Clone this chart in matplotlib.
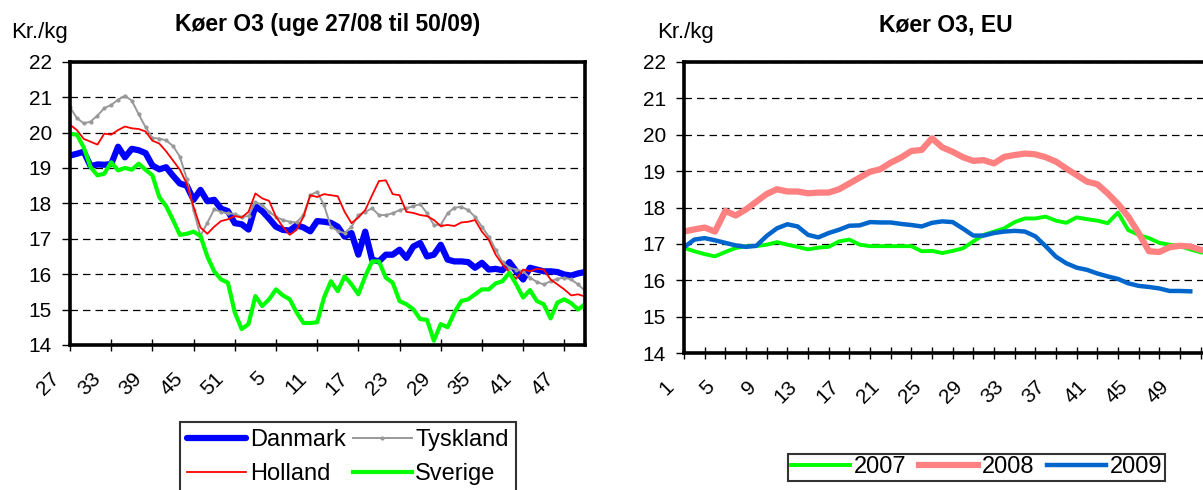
import matplotlib
matplotlib.use("Agg")
import matplotlib.pyplot as plt
from matplotlib.ticker import MultipleLocator
from matplotlib.transforms import ScaledTranslation

plt.rcParams['font.family'] = ['Liberation Sans', 'DejaVu Sans']

# --- venstre graf: uge 27/08 til 50/09 ---
uger = list(range(27, 53)) + list(range(1, 51))

danmark = [19.35, 19.4, 19.46, 19.05, 19.1, 19.09, 19.11, 19.6, 19.3, 19.54,
           19.5, 19.42, 19.07, 18.96, 19.02, 18.78, 18.56, 18.5, 18.1, 18.38,
           18.06, 18.1, 17.85, 17.78, 17.44, 17.41, 17.26, 17.92, 17.78, 17.57,
           17.34, 17.25, 17.23, 17.38, 17.32, 17.21, 17.5, 17.48, 17.45, 17.34,
           17.06, 17.16, 16.55, 17.2, 16.41, 16.36, 16.55, 16.55, 16.69, 16.46,
           16.78, 16.88, 16.5, 16.55, 16.83, 16.41, 16.36, 16.36, 16.34, 16.18,
           16.32, 16.13, 16.15, 16.11, 16.34, 16.08, 15.85, 16.18, 16.13, 16.08,
           16.08, 16.06, 15.99, 15.96, 16.02, 16.06]
tyskland = [20.71, 20.41, 20.26, 20.31, 20.48, 20.69, 20.78, 20.93, 21.04, 20.9,
            20.52, 20.15, 19.85, 19.83, 19.78, 19.62, 19.32, 18.7, 17.8, 17.08,
            17.45, 17.83, 17.76, 17.72, 17.7, 17.62, 17.64, 18.04, 17.95, 17.76,
            17.62, 17.53, 17.48, 17.46, 17.67, 18.23, 18.33, 17.95, 17.34, 17.22,
            17.16, 17.34, 17.67, 17.76, 17.86, 17.67, 17.67, 17.72, 17.81, 17.86,
            17.92, 17.98, 17.72, 17.39, 17.39, 17.72, 17.88, 17.9, 17.81, 17.62,
            17.34, 17.06, 16.69, 16.34, 16.18, 16.13, 16.08, 15.9, 15.78, 15.71,
            15.8, 15.87, 15.9, 15.85, 15.71, 15.53]
holland = [20.22, 20.07, 19.82, 19.74, 19.66, 19.97, 19.94, 20.07, 20.17, 20.12,
           20.1, 20.03, 19.77, 19.69, 19.47, 19.21, 18.95, 18.56, 17.9, 17.32,
           17.14, 17.34, 17.5, 17.55, 17.64, 17.6, 17.76, 18.28, 18.14, 18.07,
           17.62, 17.34, 17.11, 17.25, 17.62, 18.23, 18.18, 18.26, 18.23, 18.2,
           17.76, 17.44, 17.6, 17.81, 18.23, 18.63, 18.65, 18.26, 18.23, 17.76,
           17.73, 17.67, 17.64, 17.53, 17.36, 17.39, 17.36, 17.46, 17.48, 17.53,
           17.2, 16.97, 16.55, 16.27, 16.06, 15.87, 16.13, 16.08, 16.15, 16.13,
           15.85, 15.71, 15.57, 15.4, 15.43, 15.37]
sverige = [19.96, 19.94, 19.58, 19.02, 18.79, 18.84, 19.16, 18.93, 19.0, 18.95,
           19.12, 18.95, 18.79, 18.18, 17.92, 17.53, 17.11, 17.14, 17.2, 17.08,
           16.5, 16.08, 15.85, 15.76, 14.92, 14.45, 14.59, 15.38, 15.1, 15.29,
           15.57, 15.4, 15.29, 14.92, 14.62, 14.62, 14.64, 15.34, 15.8, 15.52,
           15.94, 15.71, 15.43, 15.94, 16.36, 16.36, 15.9, 15.76, 15.24, 15.15,
           15.01, 14.73, 14.71, 14.12, 14.59, 14.5, 14.92, 15.24, 15.29, 15.43,
           15.57, 15.57, 15.74, 15.8, 16.04, 15.71, 15.34, 15.55, 15.24, 15.15,
           14.75, 15.2, 15.29, 15.18, 15.0, 15.15]

# --- hoejre graf: EU, uge 1-52 ---
uger_eu = list(range(1, 53))
eu_2007 = [16.89, 16.8, 16.72, 16.66, 16.78, 16.89, 16.94, 16.94, 16.98, 17.05,
           16.98, 16.92, 16.85, 16.9, 16.92, 17.07, 17.12, 16.98, 16.94, 16.94,
           16.94, 16.94, 16.94, 16.8, 16.81, 16.75, 16.81, 16.88, 17.07, 17.25,
           17.34, 17.43, 17.6, 17.7, 17.7, 17.75, 17.64, 17.58, 17.73, 17.68,
           17.64, 17.57, 17.86, 17.38, 17.25, 17.16, 17.03, 16.98, 16.94, 16.85,
           16.77, 16.75]
eu_2008 = [17.34, 17.4, 17.45, 17.34, 17.91, 17.78, 17.95, 18.16, 18.37, 18.5,
           18.44, 18.44, 18.39, 18.41, 18.41, 18.5, 18.66, 18.82, 18.98, 19.05,
           19.23, 19.37, 19.55, 19.58, 19.9, 19.65, 19.53, 19.38, 19.28, 19.3,
           19.21, 19.39, 19.44, 19.48, 19.46, 19.38, 19.26, 19.07, 18.89, 18.71,
           18.64, 18.39, 18.1, 17.75, 17.3, 16.8, 16.78, 16.91, 16.95, 16.93,
           16.84, 16.8]
eu_2009 = [16.91, 17.12, 17.16, 17.1, 17.03, 16.96, 16.92, 16.95, 17.22, 17.43,
           17.54, 17.48, 17.25, 17.18, 17.3, 17.39, 17.5, 17.51, 17.6, 17.59,
           17.59, 17.55, 17.52, 17.48, 17.58, 17.62, 17.6, 17.42, 17.23, 17.23,
           17.3, 17.34, 17.36, 17.34, 17.21, 16.94, 16.65, 16.47, 16.35, 16.29,
           16.19, 16.11, 16.04, 15.92, 15.85, 15.82, 15.78, 15.71, 15.71, 15.7]

fig = plt.figure(figsize=(12.03, 4.90), dpi=100)

def style_axis(ax):
    ax.set_ylim(14, 22)
    ax.yaxis.set_major_locator(MultipleLocator(1))
    ax.grid(axis='y', color='black', linestyle=(0, (6, 4)), linewidth=0.9)
    ax.set_axisbelow(True)
    for s in ax.spines.values():
        s.set_linewidth(2.6)
    ax.tick_params(axis='y', direction='out', length=6, width=1, labelsize=15, pad=7)
    ax.tick_params(axis='x', which='both', direction='inout', length=8, width=1,
                   labelsize=15, pad=13)
    # labels lidt til venstre som i Excel
    for lab in ax.get_xticklabels():
        lab.set_transform(lab.get_transform() + ScaledTranslation(-0.07, 0, fig.dpi_scale_trans))

def legend(handles, ncol, anchor, loc, **kw):
    lg = fig.legend(handles=handles, ncol=ncol, loc=loc, bbox_to_anchor=anchor,
                    fontsize=17, frameon=True, fancybox=False, edgecolor='black',
                    handlelength=2.5, handletextpad=0.15, borderaxespad=0, **kw)
    lg.get_frame().set_linewidth(1.5)

# venstre
ax1 = fig.add_axes([0.0582, 0.296, 0.428, 0.578])
pos = list(range(len(uger)))
l_dk, = ax1.plot(pos, danmark, color='#0000FF', lw=4.5, solid_capstyle='round', label='Danmark')
l_ty, = ax1.plot(pos, tyskland, color='#999999', lw=1.4, marker='o', markersize=2,
                 label='Tyskland')
l_ho, = ax1.plot(pos, holland, color='#FF0000', lw=1.3, label='Holland')
l_sv, = ax1.plot(pos, sverige, color='#00FF00', lw=3, label='Sverige')
ax1.set_xlim(0, len(uger) - 1)
ax1.set_xticks(pos[::6])
ax1.set_xticklabels([str(uger[i]) for i in pos[::6]], rotation=45, ha='right')
style_axis(ax1)
fig.text(0.272, 0.949, 'Køer O3 (uge 27/08 til 50/09)', fontsize=16.5, fontweight='bold',
         ha='center', va='center')
fig.text(0.009, 0.933, 'Kr./kg', fontsize=16, va='center')
legend([l_dk, l_ho, l_ty, l_sv], 2, (0.2893, 0.139), 'upper center',
       columnspacing=0.3, borderpad=0.3, labelspacing=0.5)

# hoejre
ax2 = fig.add_axes([0.5686, 0.279, 0.438, 0.595])
l07, = ax2.plot(uger_eu, eu_2007, color='#00FF00', lw=2.8, label='2007')
l08, = ax2.plot(uger_eu, eu_2008, color='#FF8080', lw=4.5, label='2008')
l09, = ax2.plot(uger_eu[:len(eu_2009)], eu_2009, color='#0066CC', lw=3.2, label='2009')
ax2.set_xlim(1, 52)
ax2.set_xticks(range(1, 53, 4))
ax2.set_xticks(range(3, 53, 4), minor=True)
ax2.set_xticklabels([str(w) for w in range(1, 53, 4)], rotation=45, ha='right')
style_axis(ax2)
fig.text(0.786, 0.949, 'Køer O3, EU', fontsize=16.5, fontweight='bold',
         ha='center', va='center')
fig.text(0.546, 0.933, 'Kr./kg', fontsize=16, va='center')
legend([l07, l08, l09], 3, (0.812, 0.046), 'center',
       columnspacing=0.55, borderpad=0.12)

fig.savefig('out.png', dpi=100)
